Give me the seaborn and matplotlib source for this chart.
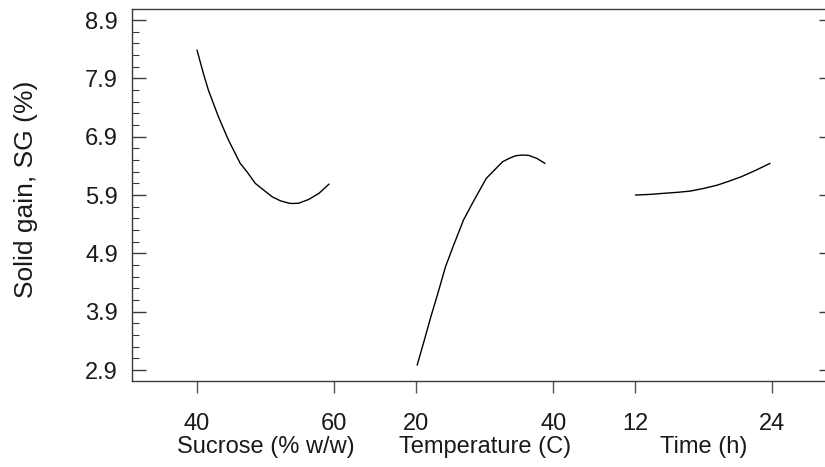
import numpy as np
import pandas as pd
import matplotlib
matplotlib.use("Agg")
import matplotlib.pyplot as plt
import seaborn as sns

# ---- data ----
sucrose = [40.0, 40.93, 41.66, 42.39, 43.13, 43.86, 44.59, 45.33, 46.31, 47.29,
           48.51, 49.73, 50.96, 52.2, 53.4, 53.9, 54.86, 56.33, 57.80, 59.27]
sg_sucrose = [8.386, 7.986, 7.70, 7.472, 7.242, 7.043, 6.843, 6.671, 6.443, 6.30,
              6.10, 5.986, 5.871, 5.80, 5.762, 5.755, 5.76, 5.826, 5.929, 6.088]

temperature = [20.14, 21.19, 22.14, 23.09, 24.28, 25.47, 26.90, 28.33, 30.23,
               31.42, 32.61, 33.57, 34.52, 35.47, 36.42, 37.61, 38.80]
sg_temperature = [2.985, 3.414, 3.814, 4.186, 4.671, 5.043, 5.471, 5.786, 6.186,
                  6.329, 6.471, 6.529, 6.574, 6.586, 6.580, 6.529, 6.443]

time_h = [12.0, 13.25, 14.43, 15.63, 16.81, 18.0, 19.19, 20.23, 21.27, 22.46, 23.79]
sg_time = [5.90, 5.911, 5.929, 5.946, 5.968, 6.014, 6.071, 6.140, 6.214, 6.317, 6.443]

factor_names = ["Sucrose (% w/w)", "Temperature (C)", "Time (h)"]
factor_ranges = [(40, 60), (20, 40), (12, 24)]
y_ticks = [2.9, 3.9, 4.9, 5.9, 6.9, 7.9, 8.9]
y_label = "Solid gain, SG (%)"

# ---- layout (composite x axis: each factor occupies one unit) ----
offsets = [0.0, 1.6, 3.2]
FS = 17

sns.set_style("ticks")
plt.rcParams["font.family"] = ["Liberation Sans", "DejaVu Sans"]
plt.rcParams["font.size"] = FS

fig = plt.figure(figsize=(8.25, 4.67), dpi=100)
W, H = 825, 467
left_px, right_px, top_px, bot_px = 132, 825, 9, 380.7
ax = fig.add_axes([left_px / W, 1 - bot_px / H, (right_px - left_px) / W, (bot_px - top_px) / H])

series = [(sucrose, sg_sucrose), (temperature, sg_temperature), (time_h, sg_time)]
for (xs, ys), (lo, hi), off in zip(series, factor_ranges, offsets):
    df = pd.DataFrame({"x": off + (np.asarray(xs) - lo) / (hi - lo), "y": ys})
    sns.lineplot(data=df, x="x", y="y", ax=ax, color="black", linewidth=1.0,
                 sort=False, estimator=None)

ax.set_xlim((left_px - 197) / 137, (right_px - 197) / 137)
ax.set_ylim(2.717, 9.09)

xt, xl = [], []
for (lo, hi), off in zip(factor_ranges, offsets):
    xt += [off, off + 1]
    xl += [str(lo), str(hi)]
ax.set_xticks(xt)
ax.set_xticklabels(xl)
ax.set_yticks(y_ticks)
ax.set_yticklabels([f"{v:.1f}" for v in y_ticks])
ax.set_yticks(np.arange(2.9, 8.95, 0.2), minor=True)

ax.set_xlabel("")
ax.set_ylabel("")

spine_col = "#3a3a3a"
for s in ax.spines.values():
    s.set_color(spine_col)
    s.set_linewidth(1.0)
ax.spines["right"].set_visible(False)

ax.tick_params(axis="x", direction="out", length=8.6, width=1.0, color="#555555",
               pad=14.5, labelsize=FS, labelcolor="#1a1a1a")
ax.tick_params(axis="y", which="major", direction="in", length=10, width=1.0,
               color=spine_col, pad=10, labelsize=FS, labelcolor="#1a1a1a",
               left=True, right=False)
ax.tick_params(axis="y", which="minor", direction="in", length=5, width=0.8,
               color=spine_col, left=True, right=False)
# short inward ticks at the (cropped) right edge
ax.tick_params(axis="y", which="major", right=True)
for t in ax.yaxis.get_major_ticks():
    t.tick2line.set_markersize(4.3)

for name, off in zip(factor_names, offsets):
    ax.text(off + 0.5, (bot_px - 453) / (bot_px - top_px), name,
            transform=ax.get_xaxis_transform(), ha="center", va="baseline",
            fontsize=FS, color="#1a1a1a")

fig.text(26 / W, 1 - 189 / H, y_label, rotation=90, ha="center", va="center",
         fontsize=19, color="#1a1a1a")

fig.savefig("out.png", dpi=100)
